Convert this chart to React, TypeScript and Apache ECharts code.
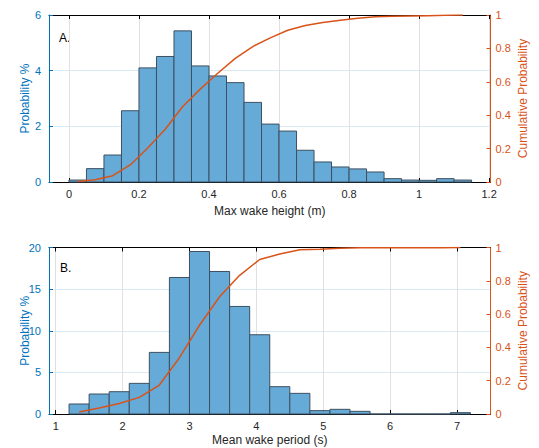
import React, { useEffect, useRef } from "react";
import * as echarts from "echarts";

// ---- Panel A: Max wake height ----
const heightBinStarts = [0, 0.05, 0.1, 0.15, 0.2, 0.25, 0.3, 0.35, 0.4, 0.45, 0.5, 0.55, 0.6, 0.65, 0.7, 0.75, 0.8, 0.85, 0.9, 0.95, 1.0, 1.05, 1.1];
const heightBinWidth = 0.05;
const heightProb = [0.07, 0.48, 0.97, 2.56, 4.1, 4.51, 5.43, 4.17, 3.81, 3.57, 2.86, 2.08, 1.83, 1.14, 0.72, 0.54, 0.47, 0.36, 0.12, 0.07, 0.06, 0.12, 0.07];
const heightCdf = [0.003, 0.014, 0.038, 0.102, 0.204, 0.316, 0.452, 0.556, 0.651, 0.74, 0.811, 0.863, 0.909, 0.937, 0.955, 0.968, 0.98, 0.989, 0.992, 0.994, 0.996, 0.998, 1.0];
const heightTicks = [0, 0.2, 0.4, 0.6, 0.8, 1, 1.2];

// ---- Panel B: Mean wake period ----
const periodBinStarts = [1.2, 1.5, 1.8, 2.1, 2.4, 2.7, 3.0, 3.3, 3.6, 3.9, 4.2, 4.5, 4.8, 5.1, 5.4, 5.7, 6.0, 6.3, 6.6, 6.9];
const periodBinWidth = 0.3;
const periodProb = [1.2, 2.4, 2.68, 3.68, 7.4, 16.4, 19.52, 17.12, 12.92, 9.52, 3.28, 2.48, 0.4, 0.56, 0.32, 0, 0, 0, 0, 0.16];
const periodCdf = [0.012, 0.036, 0.063, 0.1, 0.174, 0.338, 0.533, 0.704, 0.833, 0.928, 0.961, 0.986, 0.99, 0.996, 0.999, 0.999, 0.999, 0.999, 0.999, 1.0];
const periodTicks = [1, 2, 3, 4, 5, 6, 7];

const BLUE = "#0072BD";
const ORANGE = "#D95319";
const DARK = "#262626";
const FONT = "Liberation Sans, Arial, Helvetica, sans-serif";

const renderBar = (params: any, api: any) => {
  const x0 = api.value(0);
  const x1 = api.value(1);
  const h = api.value(2);
  const p0 = api.coord([x0, h]);
  const p1 = api.coord([x1, 0]);
  return {
    type: "rect",
    shape: { x: p0[0], y: p0[1], width: p1[0] - p0[0], height: p1[1] - p0[1] },
    style: { fill: "#66AAD7", stroke: "#3d5060", lineWidth: 1 },
  };
};

function xAxes(min: number, max: number, ticks: number[], gridIndex: number, name: string, nameGap: number) {
  return [
    {
      type: "value",
      gridIndex,
      position: "bottom",
      min,
      max,
      name,
      nameLocation: "middle",
      nameGap,
      nameMoveOverlap: false,
      nameTextStyle: { color: DARK, fontSize: 12, fontFamily: FONT },
      axisLine: { show: true, onZero: false, lineStyle: { color: "#000", width: 1 } },
      axisTick: { show: true, inside: true, length: 4, customValues: ticks, lineStyle: { color: "#000" } },
      axisLabel: { customValues: ticks, color: DARK, fontSize: 11, fontFamily: FONT, margin: 6, showMinLabel: true, showMaxLabel: true },
      splitLine: { show: true, lineStyle: { color: "#e0e0e0", width: 1 } },
    },
    {
      type: "value",
      gridIndex,
      position: "top",
      min,
      max,
      axisLine: { show: true, onZero: false, lineStyle: { color: "#000", width: 1 } },
      axisTick: { show: true, inside: true, length: 4, customValues: ticks, lineStyle: { color: "#000" } },
      axisLabel: { show: false },
      splitLine: { show: false },
    },
  ];
}

function yAxes(max: number, interval: number, gridIndex: number) {
  return [
    {
      type: "value",
      gridIndex,
      position: "left",
      min: 0,
      max,
      interval,
      name: "Probability %",
      nameLocation: "middle",
      nameGap: 18,
      nameMoveOverlap: false,
      nameTextStyle: { color: BLUE, fontSize: 12, fontFamily: FONT },
      axisLine: { show: true, onZero: false, lineStyle: { color: BLUE, width: 1 } },
      axisTick: { show: true, inside: true, length: 4, lineStyle: { color: BLUE } },
      axisLabel: { color: BLUE, fontSize: 11, fontFamily: FONT, margin: 8 },
      splitLine: { show: true, lineStyle: { color: "#d9eaf5", width: 1 } },
    },
    {
      type: "value",
      gridIndex,
      position: "right",
      min: 0,
      max: 1,
      interval: 0.2,
      name: "Cumulative Probability",
      nameLocation: "middle",
      nameGap: 26,
      nameMoveOverlap: false,
      nameTextStyle: { color: ORANGE, fontSize: 12, fontFamily: FONT },
      axisLine: { show: true, onZero: false, lineStyle: { color: ORANGE, width: 1 } },
      axisTick: { show: true, inside: true, length: 4, lineStyle: { color: ORANGE } },
      axisLabel: { color: ORANGE, fontSize: 11, fontFamily: FONT, margin: 5 },
      splitLine: { show: false },
    },
  ];
}

export default function App() {
  const ref = useRef<HTMLDivElement>(null);
  useEffect(() => {
    if (!ref.current) return;
    const chart = echarts.init(ref.current, undefined, { renderer: "svg" });
    const barsA = heightBinStarts.map((s, i) => [s, s + heightBinWidth, heightProb[i]]);
    const lineA = heightBinStarts.map((s, i) => [s + heightBinWidth / 2, heightCdf[i]]);
    const barsB = periodBinStarts.map((s, i) => [s, s + periodBinWidth, periodProb[i]]);
    const lineB = periodBinStarts.map((s, i) => [s + periodBinWidth / 2, periodCdf[i]]);
    chart.setOption({
      animation: false,
      backgroundColor: "#ffffff",
      textStyle: { fontFamily: FONT },
      grid: [
        { left: 49, top: 15, width: 441.5, height: 167, containLabel: false },
        { left: 49, top: 247.5, width: 441.5, height: 166.5, containLabel: false },
      ],
      xAxis: [
        ...xAxes(-0.057, 1.204, heightTicks, 0, "Max wake height (m)", 23),
        ...xAxes(0.9, 7.5, periodTicks, 1, "Mean wake period (s)", 20),
      ],
      yAxis: [...yAxes(6, 2, 0), ...yAxes(20, 5, 1)],
      graphic: [
        { type: "text", left: 59, top: 32, style: { text: "A.", fill: "#000", fontSize: 12, fontFamily: FONT } },
        { type: "text", left: 60, top: 262, style: { text: "B.", fill: "#000", fontSize: 12, fontFamily: FONT } },
      ],
      series: [
        {
          type: "custom",
          xAxisIndex: 0,
          yAxisIndex: 0,
          renderItem: renderBar,
          encode: { x: [0, 1], y: 2 },
          data: barsA,
          z: 2,
        },
        {
          type: "line",
          xAxisIndex: 0,
          yAxisIndex: 1,
          data: lineA,
          showSymbol: false,
          symbol: "none",
          lineStyle: { color: ORANGE, width: 1.5 },
          z: 3,
        },
        {
          type: "custom",
          xAxisIndex: 2,
          yAxisIndex: 2,
          renderItem: renderBar,
          encode: { x: [0, 1], y: 2 },
          data: barsB,
          z: 2,
        },
        {
          type: "line",
          xAxisIndex: 2,
          yAxisIndex: 3,
          data: lineB,
          showSymbol: false,
          symbol: "none",
          lineStyle: { color: ORANGE, width: 1.5 },
          z: 3,
        },
      ],
    });
    return () => chart.dispose();
  }, []);
  return (
    <div
      ref={ref}
      style={{ position: "absolute", left: 0, top: 0, width: 539, height: 448, background: "#fff" }}
    />
  );
}
